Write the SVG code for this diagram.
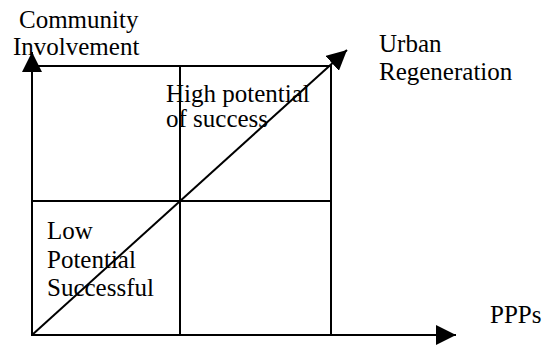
<svg xmlns="http://www.w3.org/2000/svg" width="544" height="347" viewBox="0 0 544 347">
<style>
.ln{stroke:#000;stroke-width:2;fill:none}
text{font-family:'Liberation Serif','Times New Roman',Times,serif;font-size:25px;fill:#000}
</style>
<defs>
<marker id="ah" markerUnits="userSpaceOnUse" markerWidth="20" markerHeight="20" viewBox="0 0 18 18" refX="18" refY="9" orient="auto">
<path d="M0,0 L18,9 L0,18 z" fill="#000"/>
</marker>
</defs>
<rect width="544" height="347" fill="#fff"/>
<g id="grid">
<rect class="ln" x="32" y="66" width="299" height="269"/>
<line class="ln" x1="180" y1="66" x2="180" y2="335"/>
<line class="ln" x1="32" y1="201" x2="331" y2="201"/>
</g>
<g id="connectors">
<line class="ln" x1="32" y1="335" x2="32" y2="52" marker-end="url(#ah)"/>
<line class="ln" x1="32" y1="335" x2="456" y2="335" marker-end="url(#ah)"/>
<line class="ln" x1="32" y1="335" x2="347" y2="50" marker-end="url(#ah)"/>
</g>
<g id="y-label"><text x="19" y="28">Community</text><text x="13" y="55">Involvement</text></g>
<g id="diag-label"><text x="379" y="52">Urban</text><text x="379" y="80">Regeneration</text></g>
<g id="x-label"><text x="490" y="323">PPPs</text></g>
<g id="high"><text x="166" y="102">High potential</text><text x="166" y="127">of success</text></g>
<g id="low"><text x="47" y="239">Low</text><text x="47" y="268">Potential</text><text x="47" y="296">Successful</text></g>
</svg>
